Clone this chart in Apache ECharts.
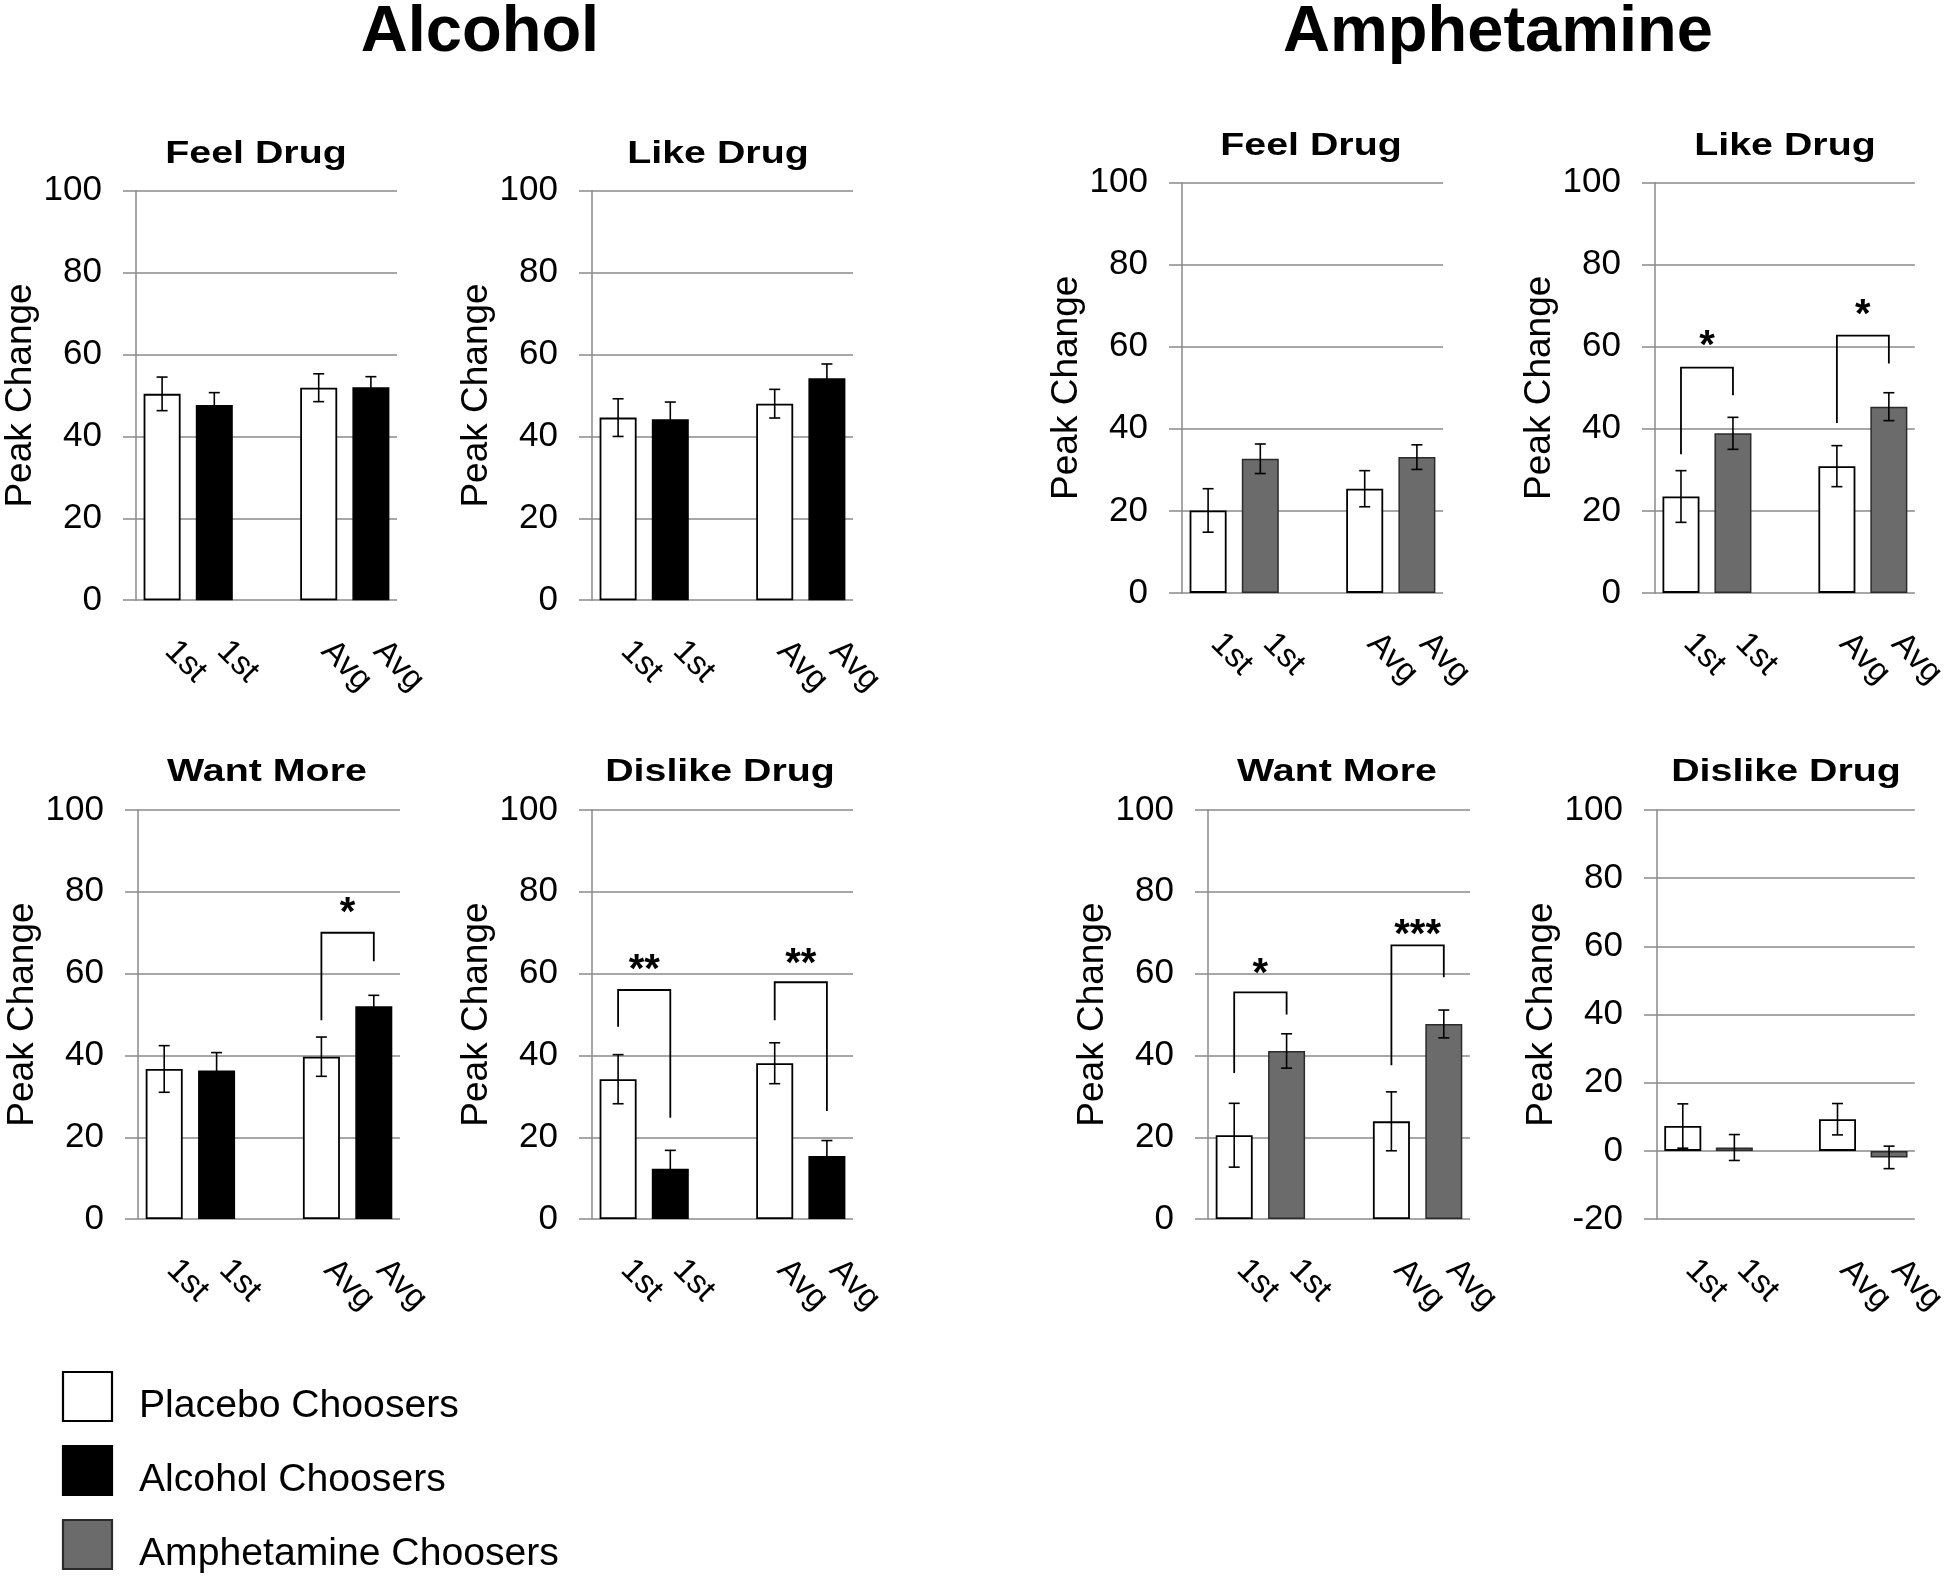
<!DOCTYPE html>
<html>
<head>
<meta charset="utf-8">
<title>Peak Change</title>
<script src="https://cdn.jsdelivr.net/npm/echarts@6/dist/echarts.min.js"></script>
<style>
  html, body { margin: 0; padding: 0; background: #fff; }
  #main { width: 1950px; height: 1582px; }
</style>
</head>
<body>
<div id="main"></div>
<script>
// categories: 1st session / average, one empty slot between the pairs
var categories = ['1st', '1st', '', 'Avg', 'Avg'];
var placeboSlots = [0, 3];
var chooserSlots = [1, 4];
var yMax = 100;
var yStep = 20;

// Alcohol study
var alcFeelPlacebo = [50.4, 51.9];
var alcFeelPlaceboErr = [4.1, 3.4];
var alcFeelChooser = [47.7, 52.0];
var alcFeelChooserErr = [3.0, 2.6];

var alcLikePlacebo = [44.6, 48.0];
var alcLikePlaceboErr = [4.6, 3.5];
var alcLikeChooser = [44.2, 54.2];
var alcLikeChooserErr = [4.2, 3.5];

var alcWantPlacebo = [36.7, 39.7];
var alcWantPlaceboErr = [5.7, 4.8];
var alcWantChooser = [36.3, 52.0];
var alcWantChooserErr = [4.4, 2.7];

var alcDislikePlacebo = [34.2, 38.1];
var alcDislikePlaceboErr = [6.0, 5.0];
var alcDislikeChooser = [12.3, 15.4];
var alcDislikeChooserErr = [4.5, 3.8];

// Amphetamine study
var ampFeelPlacebo = [20.1, 25.4];
var ampFeelPlaceboErr = [5.3, 4.4];
var ampFeelChooser = [32.7, 33.1];
var ampFeelChooserErr = [3.6, 3.0];

var ampLikePlacebo = [23.5, 30.9];
var ampLikePlaceboErr = [6.3, 5.0];
var ampLikeChooser = [38.9, 45.4];
var ampLikeChooserErr = [3.9, 3.4];

var ampWantPlacebo = [20.5, 23.9];
var ampWantPlaceboErr = [7.8, 7.2];
var ampWantChooser = [41.1, 47.7];
var ampWantChooserErr = [4.2, 3.4];

var ampDislikePlacebo = [7.3, 9.3];
var ampDislikePlaceboErr = [6.5, 4.6];
var ampDislikeChooser = [1.0, -1.9];
var ampDislikeChooserErr = [3.8, 3.3];

// significance brackets: [fromSlot, toSlot, leftEnd, top, rightEnd, starLevel]
var alcWantBrackets = [[3, 4, 48.6, 70.0, 63.0, 76.7]];
var alcWantStars = ['*'];
var alcDislikeBrackets = [[0, 1, 47.0, 56.0, 24.8, 62.9], [3, 4, 48.6, 57.9, 26.4, 64.3]];
var alcDislikeStars = ['**', '**'];
var ampLikeBrackets = [[0, 1, 33.8, 54.9, 48.2, 62.2], [3, 4, 41.4, 62.7, 55.9, 69.7]];
var ampLikeStars = ['*', '*'];
var ampWantBrackets = [[0, 1, 35.7, 55.4, 50.0, 61.9], [3, 4, 37.6, 66.9, 59.1, 71.3]];
var ampWantStars = ['*', '***'];

var legendNames = ['Placebo Choosers', 'Alcohol Choosers', 'Amphetamine Choosers'];

var FONT = '"Liberation Sans", Arial, sans-serif';
var GRID_GRAY = '#8a8a8a';
var AMPH_GRAY = '#6b6b6b';

var panels = [
  { title: 'Feel Drug', tx: 256, ty: 154, grid: { left: 136, top: 190.8, width: 261, height: 409.4 }, min: 0,
    p: alcFeelPlacebo, pe: alcFeelPlaceboErr, c: alcFeelChooser, ce: alcFeelChooserErr, drug: 'alc' },
  { title: 'Like Drug', tx: 718, ty: 154, grid: { left: 592, top: 190.8, width: 261, height: 409.4 }, min: 0,
    p: alcLikePlacebo, pe: alcLikePlaceboErr, c: alcLikeChooser, ce: alcLikeChooserErr, drug: 'alc' },
  { title: 'Feel Drug', tx: 1311, ty: 146, grid: { left: 1182, top: 182.7, width: 261, height: 410.2 }, min: 0,
    p: ampFeelPlacebo, pe: ampFeelPlaceboErr, c: ampFeelChooser, ce: ampFeelChooserErr, drug: 'amp' },
  { title: 'Like Drug', tx: 1785, ty: 146, grid: { left: 1655, top: 182.7, width: 262, height: 410.2 }, min: 0,
    p: ampLikePlacebo, pe: ampLikePlaceboErr, c: ampLikeChooser, ce: ampLikeChooserErr, drug: 'amp',
    br: ampLikeBrackets, st: ampLikeStars },
  { title: 'Want More', tx: 267, ty: 772, grid: { left: 138, top: 810, width: 262, height: 409.1 }, min: 0,
    p: alcWantPlacebo, pe: alcWantPlaceboErr, c: alcWantChooser, ce: alcWantChooserErr, drug: 'alc',
    br: alcWantBrackets, st: alcWantStars },
  { title: 'Dislike Drug', tx: 720, ty: 772, grid: { left: 592, top: 810, width: 261, height: 409.1 }, min: 0,
    p: alcDislikePlacebo, pe: alcDislikePlaceboErr, c: alcDislikeChooser, ce: alcDislikeChooserErr, drug: 'alc',
    br: alcDislikeBrackets, st: alcDislikeStars },
  { title: 'Want More', tx: 1337, ty: 772, grid: { left: 1208, top: 810, width: 262, height: 409.1 }, min: 0,
    p: ampWantPlacebo, pe: ampWantPlaceboErr, c: ampWantChooser, ce: ampWantChooserErr, drug: 'amp',
    br: ampWantBrackets, st: ampWantStars },
  { title: 'Dislike Drug', tx: 1786, ty: 772, grid: { left: 1657, top: 810, width: 262, height: 409.1 }, min: -20,
    p: ampDislikePlacebo, pe: ampDislikePlaceboErr, c: ampDislikeChooser, ce: ampDislikeChooserErr, drug: 'amp' }
];

function spread(vals, slots) {
  var out = categories.map(function () { return '-'; });
  slots.forEach(function (s, i) { out[s] = vals[i]; });
  return out;
}

function errData(vals, errs, slots) {
  return vals.map(function (v, i) { return [slots[i], v, errs[i]]; });
}

function renderErr(params, api) {
  var x = api.value(0), v = api.value(1), e = api.value(2);
  var top = api.coord([x, v + e]);
  var bot = api.coord([x, v - e]);
  var w = 5.5;
  var st = { stroke: '#000', lineWidth: 1.6 };
  return {
    type: 'group',
    children: [
      { type: 'line', shape: { x1: top[0], y1: top[1], x2: bot[0], y2: bot[1] }, style: st },
      { type: 'line', shape: { x1: top[0] - w, y1: top[1], x2: top[0] + w, y2: top[1] }, style: st },
      { type: 'line', shape: { x1: bot[0] - w, y1: bot[1], x2: bot[0] + w, y2: bot[1] }, style: st }
    ]
  };
}

function makeBracketRenderer(stars) {
  return function (params, api) {
    var a = api.value(0), b = api.value(1);
    var p1 = api.coord([a, api.value(2)]);
    var p2 = api.coord([a, api.value(3)]);
    var p3 = api.coord([b, api.value(3)]);
    var p4 = api.coord([b, api.value(4)]);
    var sy = api.coord([a, api.value(5)])[1];
    var sx = (p2[0] + p3[0]) / 2;
    return {
      type: 'group',
      children: [
        { type: 'polyline', shape: { points: [p1, p2, p3, p4] }, style: { stroke: '#000', lineWidth: 1.8, fill: null } },
        { type: 'text', x: sx, y: sy + 9,
          style: { text: stars[params.dataIndex], font: 'bold 40px ' + FONT, fill: '#000',
                   align: 'center', verticalAlign: 'middle' } }
      ]
    };
  };
}

var grids = [], xAxes = [], yAxes = [], series = [], graphics = [];

panels.forEach(function (pn, i) {
  grids.push(pn.grid);
  xAxes.push({
    type: 'category', gridIndex: i, data: categories,
    axisLine: { show: false }, axisTick: { show: false },
    axisLabel: { interval: 0, rotate: -45, margin: 38, fontSize: 33, color: '#000', fontFamily: FONT,
                 padding: [0, 0, 0, 11] }
  });
  yAxes.push({
    type: 'value', gridIndex: i, min: pn.min, max: yMax, interval: yStep,
    name: 'Peak Change', nameLocation: 'middle', nameGap: 94,
    nameTextStyle: { fontSize: 37, color: '#000', fontFamily: FONT },
    axisLine: { show: true, lineStyle: { color: GRID_GRAY, width: 1.5 } },
    axisTick: { show: true, length: 13, lineStyle: { color: GRID_GRAY, width: 1.5 } },
    axisLabel: { fontSize: 35, color: '#000', margin: 34, fontFamily: FONT },
    splitLine: { show: true, lineStyle: { color: GRID_GRAY, width: 1.5 } }
  });
  var chooserName = pn.drug === 'alc' ? legendNames[1] : legendNames[2];
  var chooserStyle = pn.drug === 'alc'
    ? { color: '#000', borderColor: '#000', borderWidth: 1.5 }
    : { color: AMPH_GRAY, borderColor: '#2b2b2b', borderWidth: 1.5 };
  series.push({
    type: 'bar', name: legendNames[0], xAxisIndex: i, yAxisIndex: i,
    data: spread(pn.p, placeboSlots), barWidth: 37, barGap: '-100%',
    itemStyle: { color: '#fff', borderColor: '#000', borderWidth: 1.8 }, z: 2
  });
  series.push({
    type: 'bar', name: chooserName, xAxisIndex: i, yAxisIndex: i,
    data: spread(pn.c, chooserSlots), barWidth: 37, barGap: '-100%',
    itemStyle: chooserStyle, z: 2
  });
  series.push({
    type: 'custom', xAxisIndex: i, yAxisIndex: i, renderItem: renderErr,
    data: errData(pn.p, pn.pe, placeboSlots).concat(errData(pn.c, pn.ce, chooserSlots)),
    encode: { x: 0, y: 1 }, z: 4
  });
  if (pn.br) {
    series.push({
      type: 'custom', xAxisIndex: i, yAxisIndex: i, renderItem: makeBracketRenderer(pn.st),
      data: pn.br, encode: { x: 0, y: 3 }, z: 4, clip: false
    });
  }
  graphics.push({
    type: 'text', x: pn.tx, y: pn.ty, scaleX: 1.27,
    style: { text: pn.title, font: 'bold 31px ' + FONT, fill: '#000', align: 'center', verticalAlign: 'middle' }
  });
});

// main headings
graphics.push({ type: 'text', x: 480, y: 33,
  style: { text: 'Alcohol', font: 'bold 65px ' + FONT, fill: '#000', align: 'center', verticalAlign: 'middle' } });
graphics.push({ type: 'text', x: 1498, y: 33,
  style: { text: 'Amphetamine', font: 'bold 65px ' + FONT, fill: '#000', align: 'center', verticalAlign: 'middle' } });

// legend
var legendFills = ['#fff', '#000', AMPH_GRAY];
var legendBorders = ['#000', '#000', '#2b2b2b'];
var legendTops = [1372, 1446, 1520];
legendNames.forEach(function (nm, k) {
  graphics.push({ type: 'rect', shape: { x: 63, y: legendTops[k], width: 49, height: 49 },
    style: { fill: legendFills[k], stroke: legendBorders[k], lineWidth: 2.2 } });
  graphics.push({ type: 'text', x: 139, y: legendTops[k] + 35, scaleX: 1.03,
    style: { text: nm, font: '38px ' + FONT, fill: '#000', align: 'left', verticalAlign: 'middle' } });
});

var chart = echarts.init(document.getElementById('main'));
chart.setOption({
  backgroundColor: '#fff',
  animation: false,
  grid: grids,
  xAxis: xAxes,
  yAxis: yAxes,
  series: series,
  graphic: graphics
});
</script>
</body>
</html>
